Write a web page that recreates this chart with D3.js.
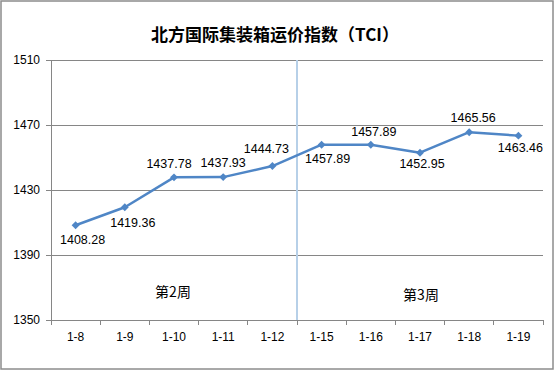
<!DOCTYPE html>
<html>
<head>
<meta charset="utf-8">
<script src="https://cdn.jsdelivr.net/npm/d3@7"></script>
<style>
  body { margin: 0; background: #fff; }
  svg { display: block; }
</style>
</head>
<body>
<svg id="chart" width="554" height="370"></svg>
<script>
// data
const dates = ['1-8', '1-9', '1-10', '1-11', '1-12', '1-15', '1-16', '1-17', '1-18', '1-19']
const tci = [1408.28, 1419.36, 1437.78, 1437.93, 1444.73, 1457.89, 1457.89, 1452.95, 1465.56, 1463.46]
const yTicks = [1350, 1390, 1430, 1470, 1510]
const weeks = ['第2周', '第3周']
const weekSpans = [['1-8', '1-12'], ['1-15', '1-19']]

// data label placement (offset from the point, px), as Excel nudged them
const labelNudge = [[7, 14], [8, 15], [-5, -14], [0, -14], [-6, -17], [6, 14], [3, -13], [2, 11], [4, -15], [2, 12]]

const svg = d3.select('#chart')
const margin = { left: 51, right: 11, top: 60, bottom: 50 }
const W = 554
const H = 370

const x = d3.scaleBand().domain(dates).range([margin.left, W - margin.right])
const y = d3.scaleLinear().domain([1350, 1510]).range([H - margin.bottom, margin.top])
const cx = d => x(d) + x.bandwidth() / 2

// outer frame
svg.append('rect')
  .attr('x', 1).attr('y', 1).attr('width', W - 2).attr('height', H - 2)
  .attr('fill', '#fff').attr('stroke', '#8c8c8c').attr('stroke-width', 1.5)

// title
svg.append('text')
  .attr('x', 275).attr('y', 41)
  .attr('text-anchor', 'middle')
  .style('font', 'bold 17px "Noto Sans CJK SC", sans-serif')
  .attr('fill', '#000')
  .text('北方国际集装箱运价指数（TCI）')

// gridlines
const grid = svg.append('g')
  .attr('transform', `translate(${margin.left},0)`)
  .call(d3.axisLeft(y).tickValues(yTicks).tickSize(-(W - margin.left - margin.right)).tickFormat(''))
grid.select('.domain').remove()
grid.selectAll('line').attr('stroke', '#868686').attr('shape-rendering', 'crispEdges')

// y axis
const yAxis = svg.append('g')
  .attr('transform', `translate(${margin.left},0)`)
  .call(d3.axisLeft(y).tickValues(yTicks).tickSize(5).tickPadding(6).tickFormat(d3.format('d')))
yAxis.selectAll('path, line').attr('stroke', '#868686').attr('shape-rendering', 'crispEdges')
yAxis.selectAll('text')
  .style('font', '12px "Liberation Sans", Arial, sans-serif')
  .attr('fill', '#000')

// x axis: labels in band centres, tick marks at band edges
const xAxis = svg.append('g')
  .attr('transform', `translate(0,${H - margin.bottom})`)
  .call(d3.axisBottom(x).tickSize(0).tickPadding(12))
xAxis.select('.domain').attr('stroke', '#868686').attr('shape-rendering', 'crispEdges')
xAxis.selectAll('text')
  .style('font', '12px "Liberation Sans", Arial, sans-serif')
  .attr('fill', '#000')
xAxis.selectAll('.edge')
  .data(d3.range(dates.length + 1))
  .join('line')
  .attr('class', 'edge')
  .attr('x1', i => margin.left + i * x.step())
  .attr('x2', i => margin.left + i * x.step())
  .attr('y1', 0).attr('y2', 5)
  .attr('stroke', '#868686')
  .attr('shape-rendering', 'crispEdges')

// week separator
const sepX = x(weekSpans[1][0])
svg.append('line')
  .attr('x1', sepX).attr('x2', sepX)
  .attr('y1', y(1510)).attr('y2', y(1350))
  .attr('stroke', '#b7d0e8').attr('stroke-width', 2)

// week labels
svg.selectAll('.week')
  .data(weeks)
  .join('text')
  .attr('class', 'week')
  .attr('x', (d, i) => (cx(weekSpans[i][0]) + cx(weekSpans[i][1])) / 2 + (i === 0 ? -1 : 1))
  .attr('y', (d, i) => i === 0 ? 297 : 300)
  .attr('text-anchor', 'middle')
  .style('font', '14px "Noto Sans CJK SC", sans-serif')
  .attr('fill', '#000')
  .text(d => d)

// series line
svg.append('path')
  .datum(tci)
  .attr('fill', 'none')
  .attr('stroke', '#4f86c6')
  .attr('stroke-width', 2.5)
  .attr('stroke-linejoin', 'round')
  .attr('d', d3.line().x((d, i) => cx(dates[i])).y(d => y(d)))

// diamond markers
svg.selectAll('.marker')
  .data(tci)
  .join('path')
  .attr('class', 'marker')
  .attr('transform', (d, i) => `translate(${cx(dates[i])},${y(d)})`)
  .attr('d', d3.symbol().type(d3.symbolDiamond2).size(40))
  .attr('fill', '#4f86c6')

// data labels
svg.selectAll('.value')
  .data(tci)
  .join('text')
  .attr('class', 'value')
  .attr('x', (d, i) => cx(dates[i]) + labelNudge[i][0])
  .attr('y', (d, i) => y(d) + labelNudge[i][1])
  .attr('dy', '0.35em')
  .attr('text-anchor', 'middle')
  .style('font', '12.5px "Liberation Sans", Arial, sans-serif')
  .attr('fill', '#000')
  .text(d => d3.format('.2f')(d))
</script>
</body>
</html>
